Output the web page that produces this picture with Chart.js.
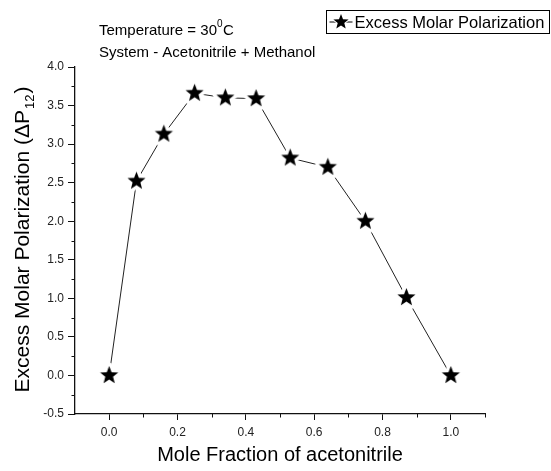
<!DOCTYPE html>
<html>
<head>
<meta charset="utf-8">
<script src="https://cdn.jsdelivr.net/npm/chart.js@4.4.0/dist/chart.umd.min.js"></script>
<style>
  html, body { margin: 0; padding: 0; background: #fff; }
</style>
</head>
<body>
<canvas id="stage" width="551" height="471"></canvas>
<script>
// mole fraction of acetonitrile
var moleFraction = [0.0, 0.08, 0.16, 0.25, 0.34, 0.43, 0.53, 0.64, 0.75, 0.87, 1.0];
// excess molar polarization
var excessPol = [0.0, 2.52, 3.13, 3.66, 3.60, 3.59, 2.82, 2.70, 2.00, 1.01, 0.0];

// ticks
var xTicks = [0.0, 0.2, 0.4, 0.6, 0.8, 1.0];
var xMinorTicks = [0.1, 0.3, 0.5, 0.7, 0.9, 1.1];
var yTicks = [-0.5, 0.0, 0.5, 1.0, 1.5, 2.0, 2.5, 3.0, 3.5, 4.0];
var yMinorTicks = [-0.25, 0.25, 0.75, 1.25, 1.75, 2.25, 2.75, 3.25, 3.75];

var seriesName = 'Excess Molar Polarization';
var font = '"Liberation Sans", Arial, sans-serif';

// filled star with a white rim (gives the gap in the line like Origin)
function makeStar(r, rim) {
  var s = Math.ceil(r * 2 + 8);
  var c = document.createElement('canvas');
  c.width = s; c.height = s;
  var g = c.getContext('2d');
  g.beginPath();
  for (var i = 0; i < 10; i++) {
    var rr = (i % 2) ? r * 0.43 : r;
    var a = -Math.PI / 2 + i * Math.PI / 5;
    g.lineTo(s / 2 + rr * Math.cos(a), s / 2 + rr * Math.sin(a));
  }
  g.closePath();
  g.lineJoin = 'round';
  g.lineWidth = rim;
  g.strokeStyle = '#fff';
  g.stroke();
  g.fillStyle = '#000';
  g.fill();
  return c;
}
var starImg = makeStar(9.5, 7);
var starSmall = makeStar(8, 2);

var points = moleFraction.map(function (x, i) { return { x: x, y: excessPol[i] }; });

// 文字・凡例・副目盛り
var extras = {
  id: 'extras',
  afterDraw: function (chart) {
    var ctx = chart.ctx, a = chart.chartArea;
    var xs = chart.scales.x, ys = chart.scales.y;
    ctx.save();
    ctx.strokeStyle = '#111';
    ctx.lineWidth = 1;
    xMinorTicks.forEach(function (v) {
      var px = Math.round(xs.getPixelForValue(v)) + 0.5;
      ctx.beginPath(); ctx.moveTo(px, a.bottom); ctx.lineTo(px, a.bottom + 3.5); ctx.stroke();
    });
    yMinorTicks.forEach(function (v) {
      var py = Math.round(ys.getPixelForValue(v)) + 0.5;
      ctx.beginPath(); ctx.moveTo(a.left, py); ctx.lineTo(a.left - 3.5, py); ctx.stroke();
    });

    ctx.fillStyle = '#000';
    ctx.textBaseline = 'alphabetic';

    // x title
    ctx.font = '20px ' + font;
    ctx.textAlign = 'center';
    ctx.fillText('Mole Fraction of acetonitrile', (a.left + a.right) / 2, 461);

    // y title with subscript
    ctx.save();
    ctx.translate(29, (a.top + a.bottom) / 2);
    ctx.rotate(-Math.PI / 2);
    var p1 = 'Excess Molar Polarization (\u0394P', sub = '12', p2 = ')';
    ctx.font = '21px ' + font;
    var w1 = ctx.measureText(p1).width, w3 = ctx.measureText(p2).width;
    ctx.font = '13px ' + font;
    var w2 = ctx.measureText(sub).width;
    var x0 = -(w1 + w2 + w3) / 2;
    ctx.textAlign = 'left';
    ctx.font = '21px ' + font;
    ctx.fillText(p1, x0, 0);
    ctx.font = '13px ' + font;
    ctx.fillText(sub, x0 + w1 + 1, 5);
    ctx.font = '21px ' + font;
    ctx.fillText(p2, x0 + w1 + w2 + 2, 0);
    ctx.restore();

    // notes
    ctx.textAlign = 'left';
    ctx.font = '15px ' + font;
    var t1 = 'Temperature = 30';
    ctx.fillText(t1, 99, 35);
    var wt = ctx.measureText(t1).width;
    ctx.font = '10px ' + font;
    ctx.fillText('0', 99 + wt, 27);
    ctx.font = '15px ' + font;
    ctx.fillText('C', 99 + wt + 6, 35);
    ctx.fillText('System - Acetonitrile + Methanol', 99, 57);

    // legend box
    var bx = 326.5, by = 10.5, bw = 223, bh = 23;
    ctx.lineWidth = 1;
    ctx.strokeStyle = '#000';
    ctx.strokeRect(bx, by, bw, bh);
    var ly = by + bh / 2;
    ctx.beginPath(); ctx.moveTo(bx + 3, ly); ctx.lineTo(bx + 26, ly); ctx.stroke();
    ctx.drawImage(starSmall, bx + 14.5 - starSmall.width / 2, ly - starSmall.height / 2);
    ctx.font = '16.5px ' + font;
    ctx.textBaseline = 'middle';
    ctx.fillText(seriesName, bx + 28, ly + 1);
    ctx.restore();
  }
};

var canvas = document.getElementById('stage');
var chart = new Chart(canvas, {
  type: 'line',
  data: {
    datasets: [{
      label: seriesName,
      data: points,
      borderColor: '#222',
      borderWidth: 1,
      backgroundColor: '#000',
      pointStyle: starImg,
      pointRadius: 9,
      tension: 0
    }]
  },
  options: {
    responsive: false,
    animation: false,
    devicePixelRatio: 1,
    layout: { padding: { top: 67, right: 66, left: 0, bottom: 0 } },
    plugins: { legend: { display: false }, tooltip: { enabled: false } },
    scales: {
      x: {
        type: 'linear',
        min: -0.1, max: 1.1,
        afterBuildTicks: function (s) { s.ticks = xTicks.map(function (v) { return { value: v }; }); },
        afterFit: function (s) { s.height = 57; },
        ticks: {
          padding: 5,
          color: '#222',
          font: { family: font, size: 12 },
          callback: function (v) { return Number(v).toFixed(1); }
        },
        grid: { drawOnChartArea: false, drawTicks: true, tickLength: 6, tickColor: '#111' },
        border: { display: true, color: '#111', width: 1.3 }
      },
      y: {
        type: 'linear',
        min: -0.5, max: 4.0,
        afterBuildTicks: function (s) { s.ticks = yTicks.map(function (v) { return { value: v }; }); },
        afterFit: function (s) { s.width = 75; },
        ticks: {
          padding: 4,
          color: '#222',
          font: { family: font, size: 12 },
          callback: function (v) { return Number(v).toFixed(1); }
        },
        grid: { drawOnChartArea: false, drawTicks: true, tickLength: 7, tickColor: '#111' },
        border: { display: true, color: '#111', width: 1.3 }
      }
    }
  },
  plugins: [extras]
});
</script>
</body>
</html>
